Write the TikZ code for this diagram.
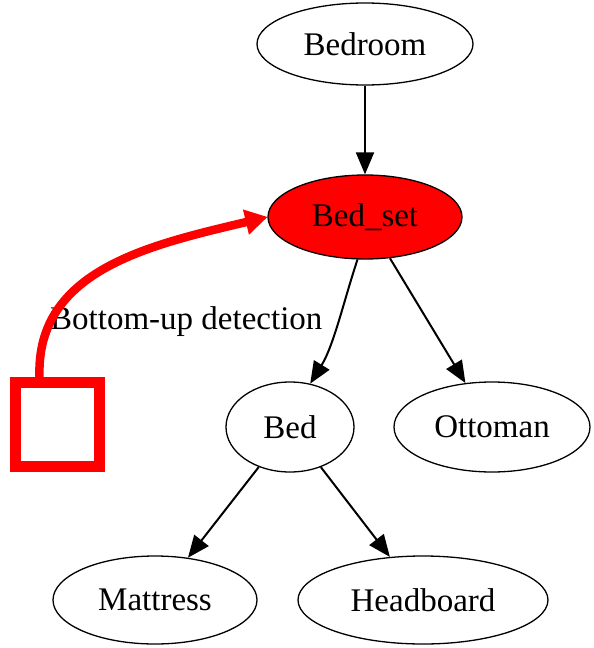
\documentclass[tikz,border=0pt]{standalone}
\usepackage{fontspec}
\setmainfont{Liberation Serif}
\usetikzlibrary{arrows.meta,shapes.geometric}
\begin{document}
\begin{tikzpicture}[x=1pt,y=-1pt,
  every node/.style={font=\fontsize{33}{38}\selectfont},
  oval/.style={ellipse,draw=black,line width=1.3pt,inner sep=0pt},
  edge/.style={draw=black,line width=2pt,-{Triangle[length=22pt,width=18pt]}},
  redge/.style={draw=red,line width=8.5pt,line cap=round,-{Triangle[length=22pt,width=26pt,line width=0pt]}}]
\useasboundingbox (0,0) rectangle (594,648);
% tree nodes
\node[oval,minimum width=216pt,minimum height=82pt] (bedroom) at (365,44) {Bedroom};
\node[oval,fill=red,minimum width=194pt,minimum height=84pt] (bedset) at (365,217) {Bed\_set};
\node[oval,minimum width=128pt,minimum height=90pt] (bed) at (290,427) {Bed};
\node[oval,minimum width=196pt,minimum height=90pt] (ottoman) at (492,427) {Ottoman};
\node[oval,minimum width=204pt,minimum height=88pt] (mattress) at (155,600) {Mattress};
\node[oval,minimum width=250pt,minimum height=88pt] (headboard) at (423,600) {Headboard};
% detector box
\node[draw=red,line width=11pt,minimum width=84pt,minimum height=84pt,inner sep=0pt] (box) at (57.5,424) {};
\node[anchor=west,inner sep=0pt] (lbl) at (50,322) {Bottom-up detection};
% connectors
\draw[edge] (bedroom) -- (bedset);
\draw[edge] (bedset.-100) .. controls (344,300) and (334,345) .. (bed.65);
\draw[edge] (bedset) -- (ottoman);
\draw[edge] (bed) -- (mattress);
\draw[edge] (bed) -- (headboard);
\draw[redge] (box.north) ++(-18,0) coordinate (b1) (b1) .. controls (36,270) and (150,245) .. (bedset.west);
\end{tikzpicture}
\end{document}
